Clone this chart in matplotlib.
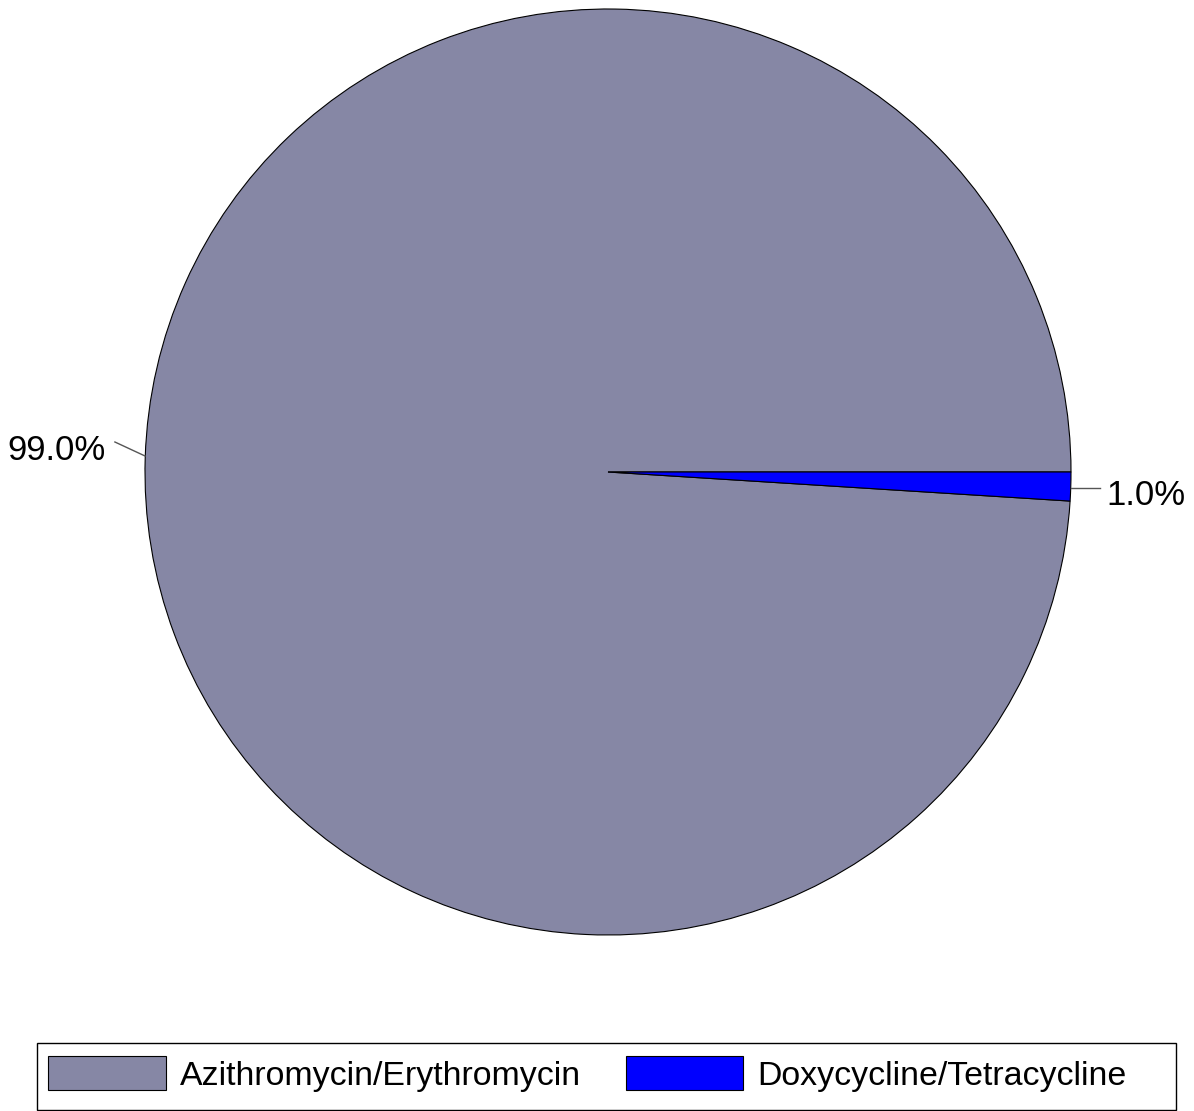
import matplotlib
matplotlib.use('Agg')
import matplotlib.pyplot as plt
from matplotlib.patches import Rectangle

plt.rcParams['font.family'] = ['Liberation Sans', 'DejaVu Sans']

## DATA
drugs = ['Azithromycin/Erythromycin', 'Doxycycline/Tetracycline']
shares = [99.0, 1.0]
colors = ['#8687a5', '#0000ff']

## FIGURE
fig = plt.figure(figsize=(11.94, 11.11), dpi=100)
# pie area: center at (608, 472) px, radius ~463 px
ax = fig.add_axes([145/1194, 1 - 935/1111, 926/1194, 926/1111])

wedges, _ = ax.pie(shares, colors=colors, startangle=0, counterclock=True,
                   radius=1.0, wedgeprops=dict(edgecolor='black', linewidth=0.8))
ax.set_xlim(-1, 1)
ax.set_ylim(-1, 1)
ax.set_aspect('equal')
ax.axis('off')

# percentage labels with short gray leader lines
lbl_big = '{:.1f}%'.format(shares[0])
lbl_small = '{:.1f}%'.format(shares[1])
ax.plot([-1.0, -1.065], [0.0346, 0.0648], color='#555555', lw=1, clip_on=False)
ax.text(-1.086, 0.047, lbl_big, fontsize=25, ha='right', va='center')
ax.plot([1.0, 1.063], [-0.0346, -0.0346], color='#555555', lw=1, clip_on=False)
ax.text(1.076, -0.05, lbl_small, fontsize=25, ha='left', va='center')

# legend along the bottom, box drawn separately
leg = fig.legend(wedges, drugs, loc='center left', ncol=2,
                 bbox_to_anchor=(48/1194, 1 - 1074/1111),
                 fontsize=24.4, frameon=False,
                 handlelength=3.47, handleheight=1.17, handletextpad=0.41,
                 columnspacing=1.33, borderpad=0, borderaxespad=0)
fig.patches.append(Rectangle((37/1194, 1/1111), 1139/1194, 67/1111,
                             transform=fig.transFigure, fill=False,
                             edgecolor='black', linewidth=1.0))

plt.savefig('out.png', dpi=100)
plt.close()
